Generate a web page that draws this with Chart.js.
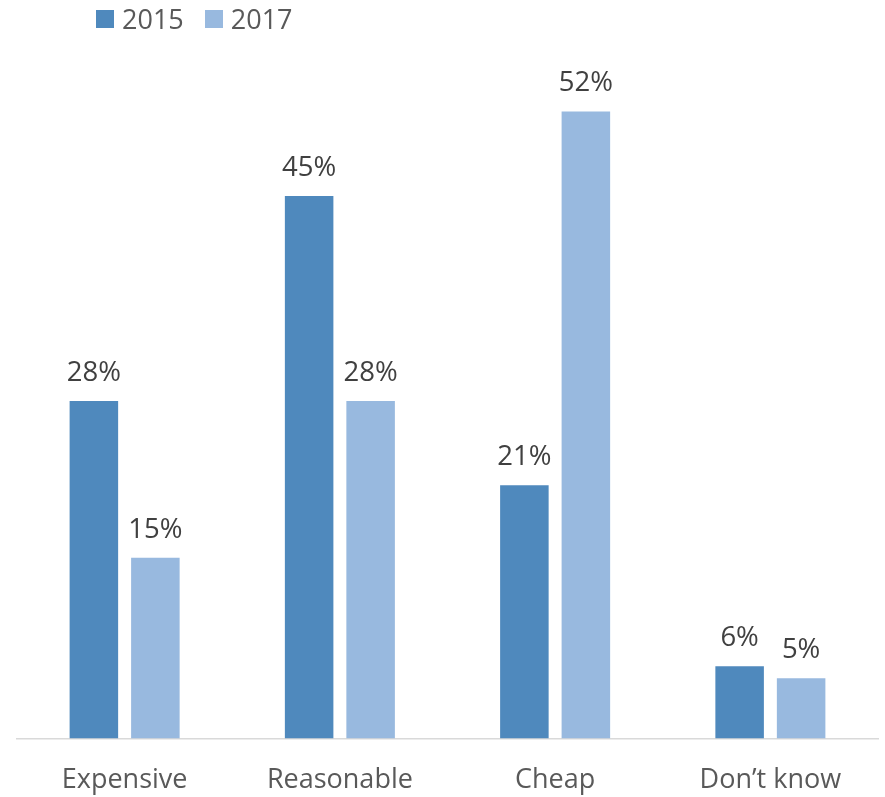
<!DOCTYPE html>
<html>
<head>
<meta charset="utf-8">
<script src="https://cdn.jsdelivr.net/npm/chart.js@4.4.1/dist/chart.umd.min.js"></script>
<style>
  html, body { margin: 0; padding: 0; background: #fff; }
  #wrap { position: relative; width: 885px; height: 797px; }
  #legend {
    position: absolute; left: 96px; top: 0; height: 37px;
    display: flex; align-items: center;
    font-family: 'Open Sans', sans-serif; font-size: 27px; color: #595959;
  }
  #legend .item { display: flex; align-items: center; margin-right: 21px; }
  #legend .box { width: 18px; height: 18px; margin-right: 8px; }
</style>
</head>
<body>
<div id="wrap">
  <canvas id="chart" width="885" height="797"></canvas>
  <div id="legend"></div>
</div>
<script>
// Survey answers, share of respondents (%)
const categories = ['Expensive', 'Reasonable', 'Cheap', 'Don\u2019t know'];
const seriesNames = ['2015', '2017'];
const values2015 = [28, 45, 21, 6];
const values2017 = [15, 28, 52, 5];
const seriesColors = ['#4f89bd', '#98b9df'];

// Percent labels above each bar
const barLabels = {
  id: 'barLabels',
  afterDatasetsDraw(chart) {
    const ctx = chart.ctx;
    ctx.save();
    ctx.font = "27.5px 'Open Sans'";
    ctx.fillStyle = '#404040';
    ctx.textAlign = 'center';
    ctx.textBaseline = 'alphabetic';
    chart.data.datasets.forEach((ds, i) => {
      chart.getDatasetMeta(i).data.forEach((bar, j) => {
        ctx.fillText(ds.data[j] + '%', bar.x, bar.y - 20);
      });
    });
    ctx.restore();
  }
};

const chart = new Chart(document.getElementById('chart'), {
  type: 'bar',
  data: {
    labels: categories,
    datasets: [
      { label: seriesNames[0], data: values2015, backgroundColor: seriesColors[0] },
      { label: seriesNames[1], data: values2017, backgroundColor: seriesColors[1] }
    ]
  },
  options: {
    responsive: false,
    animation: false,
    layout: { padding: { left: 17, right: 7, top: 15, bottom: -26 } },
    datasets: {
      bar: { categoryPercentage: 0.5714, barPercentage: 0.789 }
    },
    plugins: {
      legend: { display: false },
      tooltip: { enabled: false }
    },
    scales: {
      y: { display: false, min: 0, max: 60 },
      x: {
        grid: { display: false, drawTicks: false },
        border: { display: true, color: '#d9d9d9', width: 1.5 },
        ticks: {
          padding: 26,
          color: '#595959',
          font: { family: "'Open Sans'", size: 27 }
        }
      }
    }
  },
  plugins: [barLabels]
});

// HTML legend built from the datasets
const legendEl = document.getElementById('legend');
chart.data.datasets.forEach(ds => {
  const item = document.createElement('div');
  item.className = 'item';
  const box = document.createElement('span');
  box.className = 'box';
  box.style.background = ds.backgroundColor;
  const txt = document.createElement('span');
  txt.textContent = ds.label;
  item.appendChild(box);
  item.appendChild(txt);
  legendEl.appendChild(item);
});
</script>
</body>
</html>
